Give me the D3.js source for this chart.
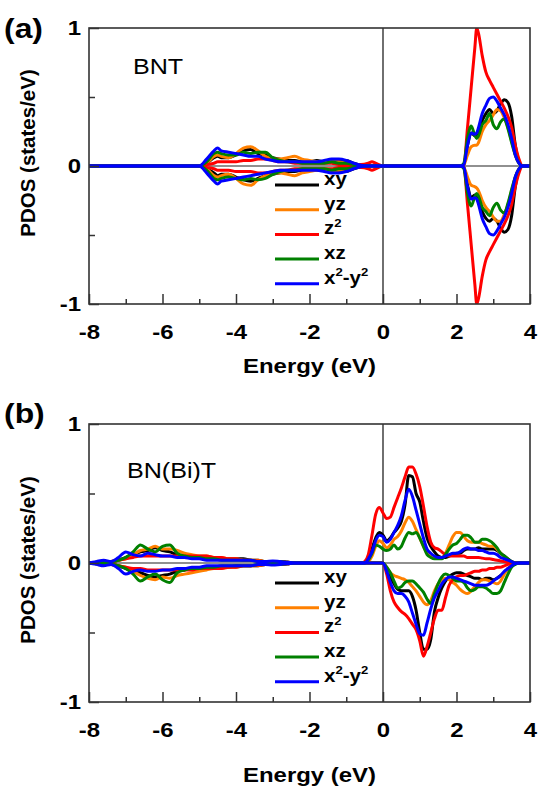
<!DOCTYPE html>
<html>
<head>
<meta charset="utf-8">
<script src="https://cdn.jsdelivr.net/npm/d3@7/dist/d3.min.js"></script>
<style>
  html, body { margin: 0; padding: 0; background: #fff; }
  svg { display: block; font-family: "Liberation Sans", Arial, Helvetica, sans-serif; }
</style>
</head>
<body>
<svg id="chart" width="538" height="788"></svg>
<script>
// ---- Energy grids (eV) ----
const energyA = [-8,
  -5.0, -4.8, -4.6, -4.5, -4.4, -4.2, -4.0, -3.8, -3.6, -3.4, -3.2, -3.0, -2.8, -2.6,
  -2.4, -2.2, -2.0, -1.8, -1.6, -1.4, -1.2, -1.0, -0.8, -0.6, -0.4, -0.3, -0.2, 0,
  2.1, 2.2, 2.3, 2.4, 2.5, 2.55, 2.6, 2.7, 2.8, 2.9, 3.0, 3.1, 3.2, 3.3, 3.4, 3.5, 3.6, 3.7, 3.8, 4];

const energyB = [
  -8, -7.8, -7.6, -7.4, -7.2, -7.0, -6.8, -6.6, -6.4, -6.2, -6.0, -5.8, -5.6, -5.4, -5.2,
  -5.0, -4.8, -4.6, -4.4, -4.2, -4.0, -3.8, -3.6, -3.4, -3.2, -3.0, -2.8, -2.6, -2.4,
  -0.6, -0.5, -0.4, -0.3, -0.2, -0.1, 0,
  0.1, 0.2, 0.3, 0.4, 0.5, 0.6, 0.7, 0.8, 0.9, 1.0,
  1.1, 1.2, 1.3, 1.4, 1.5, 1.6, 1.7, 1.8, 1.9, 2.0,
  2.1, 2.2, 2.3, 2.4, 2.5, 2.6, 2.7, 2.8, 2.9, 3.0,
  3.1, 3.2, 3.3, 3.4, 3.5, 3.6, 3.7, 3.8,
  4];

// ---- BNT: spin-up (positive) and spin-down (negative) PDOS ----
const bntXyUp = [0,
  0, 0.02, 0.06, 0.07, 0.06, 0.06, 0.08, 0.11, 0.12, 0.09, 0.08, 0.06, 0.05, 0.04,
  0.04, 0.03, 0.03, 0.04, 0.03, 0.03, 0.04, 0.04, 0.02, 0.005, 0, 0, 0, 0,
  0, 0.01, 0.15, 0.24, 0.22, 0.23, 0.26, 0.33, 0.38, 0.41, 0.38, 0.4, 0.45, 0.48, 0.46, 0.36, 0.15, 0.03, 0, 0];
const bntYzUp = [0,
  0, 0.02, 0.07, 0.08, 0.07, 0.06, 0.09, 0.13, 0.14, 0.11, 0.07, 0.05, 0.05, 0.06,
  0.07, 0.05, 0.04, 0.03, 0.03, 0.03, 0.03, 0.02, 0.01, 0.005, 0, 0, 0, 0,
  0, 0.01, 0.08, 0.14, 0.15, 0.15, 0.17, 0.25, 0.3, 0.33, 0.37, 0.41, 0.4, 0.35, 0.28, 0.18, 0.08, 0.02, 0, 0];
const bntZ2Up = [0,
  0, 0.01, 0.02, 0.03, 0.03, 0.03, 0.03, 0.04, 0.04, 0.05, 0.05, 0.04, 0.03, 0.03,
  0.02, 0.02, 0.02, 0.02, 0.02, 0.02, 0.01, 0.01, 0.01, 0.01, 0.02, 0.03, 0.02, 0,
  0, 0.01, 0.28, 0.57, 0.86, 1.0, 0.96, 0.8, 0.68, 0.62, 0.57, 0.52, 0.47, 0.42, 0.36, 0.28, 0.15, 0.05, 0, 0];
const bntXzUp = [0,
  0, 0.03, 0.09, 0.1, 0.09, 0.08, 0.08, 0.1, 0.09, 0.1, 0.1, 0.06, 0.04, 0.03,
  0.03, 0.02, 0.02, 0.02, 0.02, 0.03, 0.02, 0.02, 0.01, 0, 0, 0, 0, 0,
  0, 0.02, 0.2, 0.29, 0.22, 0.2, 0.22, 0.3, 0.33, 0.38, 0.3, 0.27, 0.32, 0.34, 0.27, 0.17, 0.08, 0.02, 0, 0];
const bntX2y2Up = [0,
  0, 0.05, 0.11, 0.13, 0.11, 0.1, 0.09, 0.08, 0.07, 0.07, 0.05, 0.04, 0.03, 0.03,
  0.03, 0.03, 0.03, 0.03, 0.04, 0.05, 0.05, 0.04, 0.02, 0.005, 0, 0, 0, 0,
  0, 0.01, 0.15, 0.24, 0.23, 0.24, 0.28, 0.38, 0.44, 0.49, 0.5, 0.47, 0.42, 0.37, 0.3, 0.2, 0.08, 0.02, 0, 0];

const bntXyDn = [0,
  0, -0.02, -0.05, -0.07, -0.06, -0.06, -0.08, -0.1, -0.11, -0.09, -0.07, -0.06, -0.05, -0.04,
  -0.04, -0.03, -0.03, -0.03, -0.03, -0.03, -0.04, -0.04, -0.02, -0.005, 0, 0, 0, 0,
  0, -0.01, -0.14, -0.23, -0.21, -0.22, -0.26, -0.33, -0.38, -0.4, -0.38, -0.4, -0.45, -0.48, -0.46, -0.36, -0.15, -0.03, 0, 0];
const bntYzDn = [0,
  0, -0.02, -0.07, -0.08, -0.07, -0.06, -0.09, -0.13, -0.14, -0.1, -0.07, -0.05, -0.05, -0.06,
  -0.07, -0.05, -0.04, -0.03, -0.03, -0.03, -0.03, -0.02, -0.01, -0.005, 0, 0, 0, 0,
  0, -0.01, -0.08, -0.14, -0.15, -0.16, -0.18, -0.25, -0.3, -0.33, -0.37, -0.4, -0.4, -0.35, -0.28, -0.18, -0.08, -0.02, 0, 0];
const bntZ2Dn = [0,
  0, -0.01, -0.02, -0.03, -0.03, -0.03, -0.04, -0.04, -0.04, -0.05, -0.05, -0.04, -0.03, -0.03,
  -0.02, -0.02, -0.02, -0.02, -0.02, -0.02, -0.01, -0.01, -0.01, -0.01, -0.02, -0.03, -0.02, 0,
  0, -0.01, -0.28, -0.57, -0.86, -1.0, -0.96, -0.8, -0.68, -0.62, -0.57, -0.52, -0.47, -0.42, -0.36, -0.28, -0.15, -0.05, 0, 0];
const bntXzDn = [0,
  0, -0.03, -0.09, -0.1, -0.09, -0.08, -0.09, -0.1, -0.09, -0.1, -0.09, -0.06, -0.04, -0.03,
  -0.03, -0.02, -0.02, -0.02, -0.02, -0.03, -0.02, -0.02, -0.01, 0, 0, 0, 0, 0,
  0, -0.02, -0.2, -0.29, -0.22, -0.2, -0.22, -0.3, -0.33, -0.36, -0.3, -0.27, -0.32, -0.34, -0.27, -0.17, -0.08, -0.02, 0, 0];
const bntX2y2Dn = [0,
  0, -0.05, -0.11, -0.13, -0.11, -0.1, -0.09, -0.08, -0.07, -0.06, -0.05, -0.04, -0.03, -0.03,
  -0.03, -0.03, -0.03, -0.03, -0.04, -0.05, -0.05, -0.04, -0.02, -0.005, 0, 0, 0, 0,
  0, -0.01, -0.15, -0.24, -0.23, -0.24, -0.28, -0.38, -0.44, -0.49, -0.5, -0.47, -0.42, -0.37, -0.3, -0.2, -0.08, -0.02, 0, 0];

// ---- BN(Bi)T ----
const bnbtXyUp = [
  0, 0.005, 0.01, 0.01, 0.02, 0.04, 0.06, 0.08, 0.09, 0.11, 0.09, 0.08, 0.06, 0.05, 0.04,
  0.04, 0.03, 0.03, 0.03, 0.03, 0.03, 0.03, 0.02, 0.02, 0.01, 0.01, 0.01, 0.005, 0,
  0, 0, 0.03, 0.1, 0.18, 0.22, 0.2,
  0.16, 0.18, 0.22, 0.25, 0.3, 0.42, 0.63, 0.62, 0.5, 0.44,
  0.3, 0.18, 0.12, 0.08, 0.05, 0.04, 0.04, 0.05, 0.06, 0.07,
  0.07, 0.09, 0.1, 0.1, 0.1, 0.11, 0.1, 0.1, 0.1, 0.1,
  0.09, 0.07, 0.05, 0.03, 0.01, 0, 0, 0,
  0];
const bnbtYzUp = [
  0, 0.005, 0.01, 0.01, 0.02, 0.03, 0.06, 0.09, 0.1, 0.12, 0.1, 0.1, 0.09, 0.07, 0.06,
  0.05, 0.05, 0.04, 0.04, 0.03, 0.03, 0.02, 0.02, 0.02, 0.01, 0.01, 0.01, 0.005, 0,
  0, 0, 0.01, 0.05, 0.12, 0.16, 0.14,
  0.11, 0.13, 0.17, 0.19, 0.23, 0.29, 0.33, 0.3, 0.24, 0.18,
  0.12, 0.07, 0.05, 0.04, 0.04, 0.04, 0.07, 0.13, 0.19, 0.22,
  0.22, 0.19, 0.16, 0.15, 0.15, 0.15, 0.14, 0.13, 0.12, 0.12,
  0.1, 0.07, 0.04, 0.02, 0.01, 0, 0, 0,
  0];
const bnbtZ2Up = [
  0, 0, 0.005, 0.01, 0.02, 0.03, 0.04, 0.05, 0.05, 0.05, 0.05, 0.05, 0.05, 0.05, 0.05,
  0.05, 0.05, 0.04, 0.04, 0.03, 0.03, 0.02, 0.02, 0.015, 0.01, 0.01, 0.01, 0.005, 0,
  0, 0.01, 0.06, 0.2, 0.35, 0.4, 0.36,
  0.32, 0.33, 0.4, 0.47, 0.54, 0.62, 0.69, 0.69, 0.64, 0.55,
  0.41, 0.26, 0.15, 0.11, 0.1, 0.08, 0.06, 0.05, 0.05, 0.05,
  0.05, 0.05, 0.04, 0.04, 0.04, 0.04, 0.035, 0.03, 0.03, 0.025,
  0.02, 0.015, 0.01, 0.005, 0, 0, 0, 0,
  0];
const bnbtXzUp = [
  0, 0.005, 0.01, 0.01, 0.02, 0.04, 0.08, 0.13, 0.1, 0.08, 0.12, 0.13, 0.07, 0.05, 0.04,
  0.04, 0.03, 0.03, 0.02, 0.02, 0.02, 0.02, 0.02, 0.01, 0.01, 0.01, 0.01, 0.005, 0,
  0, 0, 0.02, 0.07, 0.13, 0.12, 0.1,
  0.09, 0.1, 0.13, 0.1, 0.12, 0.18, 0.22, 0.21, 0.22, 0.18,
  0.12, 0.06, 0.04, 0.03, 0.03, 0.03, 0.06, 0.1, 0.13, 0.14,
  0.17, 0.2, 0.2, 0.18, 0.15, 0.15, 0.17, 0.17, 0.16, 0.14,
  0.11, 0.07, 0.05, 0.03, 0.01, 0, 0, 0,
  0];
const bnbtX2y2Up = [
  0, 0.01, 0.02, 0.01, 0.04, 0.08, 0.06, 0.05, 0.07, 0.06, 0.05, 0.05, 0.04, 0.04, 0.03,
  0.03, 0.02, 0.02, 0.02, 0.02, 0.02, 0.02, 0.02, 0.01, 0.01, 0.015, 0.01, 0.005, 0,
  0, 0, 0.03, 0.08, 0.16, 0.2, 0.19,
  0.15, 0.17, 0.22, 0.27, 0.34, 0.45, 0.53, 0.48, 0.38, 0.28,
  0.18, 0.1, 0.07, 0.05, 0.04, 0.04, 0.05, 0.06, 0.07, 0.07,
  0.08, 0.1, 0.11, 0.1, 0.1, 0.09, 0.09, 0.08, 0.07, 0.07,
  0.06, 0.04, 0.03, 0.02, 0.01, 0, 0, 0,
  0];

const bnbtXyDn = [
  0, -0.005, -0.01, -0.01, -0.02, -0.04, -0.06, -0.07, -0.09, -0.1, -0.09, -0.08, -0.06, -0.05, -0.04,
  -0.04, -0.03, -0.03, -0.03, -0.03, -0.02, -0.02, -0.02, -0.02, -0.01, -0.01, -0.01, -0.005, 0,
  0, 0, 0, 0, 0, 0, 0,
  -0.04, -0.1, -0.15, -0.19, -0.2, -0.2, -0.2, -0.24, -0.34, -0.5,
  -0.62, -0.62, -0.55, -0.35, -0.25, -0.18, -0.13, -0.1, -0.08, -0.07,
  -0.07, -0.08, -0.09, -0.1, -0.11, -0.11, -0.12, -0.11, -0.11, -0.12,
  -0.11, -0.09, -0.07, -0.04, -0.02, 0, 0, 0,
  0];
const bnbtYzDn = [
  0, -0.005, -0.01, -0.01, -0.02, -0.03, -0.06, -0.09, -0.11, -0.12, -0.1, -0.11, -0.09, -0.08, -0.07,
  -0.06, -0.05, -0.04, -0.04, -0.03, -0.03, -0.02, -0.02, -0.02, -0.01, -0.01, -0.01, -0.005, 0,
  0, 0, 0, 0, 0, 0, 0,
  -0.03, -0.07, -0.09, -0.1, -0.11, -0.12, -0.14, -0.17, -0.2, -0.24,
  -0.28, -0.3, -0.27, -0.2, -0.15, -0.12, -0.11, -0.12, -0.14, -0.16,
  -0.19, -0.21, -0.22, -0.2, -0.17, -0.14, -0.12, -0.12, -0.13, -0.14,
  -0.15, -0.13, -0.08, -0.04, -0.02, 0, 0, 0,
  0];
const bnbtZ2Dn = [
  0, 0, -0.005, -0.01, -0.02, -0.03, -0.04, -0.04, -0.05, -0.05, -0.05, -0.05, -0.05, -0.05, -0.05,
  -0.04, -0.04, -0.04, -0.04, -0.03, -0.03, -0.02, -0.02, -0.015, -0.01, -0.01, -0.01, -0.005, 0,
  0, 0, 0, 0, 0, 0, 0,
  -0.08, -0.2, -0.28, -0.32, -0.35, -0.37, -0.4, -0.44, -0.48, -0.56,
  -0.67, -0.6, -0.5, -0.4, -0.34, -0.34, -0.25, -0.16, -0.12, -0.1,
  -0.09, -0.09, -0.08, -0.07, -0.06, -0.06, -0.05, -0.05, -0.04, -0.04,
  -0.03, -0.03, -0.02, -0.01, 0, 0, 0, 0,
  0];
const bnbtXzDn = [
  0, -0.005, -0.01, -0.01, -0.02, -0.04, -0.08, -0.13, -0.1, -0.08, -0.12, -0.14, -0.07, -0.05, -0.04,
  -0.04, -0.03, -0.03, -0.02, -0.02, -0.02, -0.02, -0.02, -0.01, -0.01, -0.01, -0.01, -0.005, 0,
  0, 0, 0, 0, 0, 0, 0,
  -0.03, -0.07, -0.13, -0.18, -0.17, -0.14, -0.13, -0.13, -0.15, -0.18,
  -0.21, -0.26, -0.29, -0.22, -0.15, -0.1, -0.08, -0.09, -0.11, -0.13,
  -0.13, -0.14, -0.18, -0.2, -0.19, -0.17, -0.17, -0.18, -0.2, -0.22,
  -0.22, -0.2, -0.14, -0.08, -0.03, -0.01, 0, 0,
  0];
const bnbtX2y2Dn = [
  0, -0.01, -0.02, -0.01, -0.04, -0.08, -0.06, -0.05, -0.06, -0.06, -0.05, -0.05, -0.04, -0.04, -0.03,
  -0.03, -0.02, -0.02, -0.02, -0.02, -0.02, -0.02, -0.02, -0.01, -0.01, -0.015, -0.01, -0.005, 0,
  0, 0, 0, 0, 0, 0, 0,
  -0.06, -0.14, -0.2, -0.22, -0.22, -0.24, -0.28, -0.36, -0.44, -0.51,
  -0.52, -0.43, -0.33, -0.25, -0.2, -0.15, -0.12, -0.1, -0.1, -0.11,
  -0.12, -0.13, -0.14, -0.15, -0.16, -0.16, -0.16, -0.16, -0.15, -0.13,
  -0.11, -0.09, -0.06, -0.04, -0.02, -0.005, 0, 0,
  0];

// ---- Axis ticks and legend ----
const xMajorTicks = [-8, -6, -4, -2, 0, 2, 4];
const xMinorTicks = [-7, -5, -3, -1, 1, 3];
const yMajorTicks = [-1, 0, 1];
const yMinorTicks = [-0.5, 0.5];
const orbitalLabels = [["xy"], ["yz"], ["z", "2"], ["xz"], ["x", "2", "-y", "2"]];
const orbitalColors = ["#000000", "#ff8000", "#ff0000", "#008000", "#0000ff"];

// ---- Layout ----
const svg = d3.select("#chart");
const X0 = 89, X1 = 530;
const STRETCH = 1.14;   // horizontal widening of the type
const FONT = '"Liberation Sans", Arial, Helvetica, sans-serif';
const plainNumber = d => String(d);   // hyphen-minus for negative labels

const x = d3.scaleLinear().domain([-8, 4]).range([X0, X1]);

const panels = [
  { tag: "(a)", name: "BNT", top: 28, bottom: 304, energy: energyA,
    up: [bntXyUp, bntYzUp, bntZ2Up, bntXzUp, bntX2y2Up],
    dn: [bntXyDn, bntYzDn, bntZ2Dn, bntXzDn, bntX2y2Dn],
    tagY: 28, nameX: 133, nameY: 66, legendY: 185, titleY: 366, yTitleY: 153 },
  { tag: "(b)", name: "BN(Bi)T", top: 424, bottom: 702, energy: energyB,
    up: [bnbtXyUp, bnbtYzUp, bnbtZ2Up, bnbtXzUp, bnbtX2y2Up],
    dn: [bnbtXyDn, bnbtYzDn, bnbtZ2Dn, bnbtXzDn, bnbtX2y2Dn],
    tagY: 413, nameX: 127, nameY: 470, legendY: 583, titleY: 775, yTitleY: 560 }
];

function stretchedText(g, px, py, str, opts) {
  const t = g.append("text")
    .attr("transform", `translate(${px},${py}) scale(${STRETCH},1)`)
    .attr("font-family", FONT)
    .attr("font-size", opts.size)
    .attr("font-weight", opts.weight || "bold")
    .attr("text-anchor", opts.anchor || "start")
    .attr("dy", opts.dy || "0.35em")
    .attr("fill", "#000");
  if (str !== null) t.text(str);
  return t;
}

panels.forEach((p, pi) => {
  const y = d3.scaleLinear().domain([-1, 1]).range([p.bottom, p.top]);
  const g = svg.append("g");

  const clipId = "clip" + pi;
  svg.append("clipPath").attr("id", clipId)
    .append("rect").attr("x", X0).attr("y", p.top)
    .attr("width", X1 - X0).attr("height", p.bottom - p.top);

  // reference lines at E = 0 and PDOS = 0
  g.append("line").attr("x1", X0).attr("x2", X1).attr("y1", y(0)).attr("y2", y(0))
    .attr("stroke", "#222").attr("stroke-width", 1.2);
  g.append("line").attr("x1", x(0)).attr("x2", x(0)).attr("y1", p.top).attr("y2", p.bottom)
    .attr("stroke", "#222").attr("stroke-width", 1.3);

  // orbital curves, spin up then spin down
  const line = d3.line()
    .x((d, i) => x(p.energy[i]))
    .y(d => y(d))
    .curve(d3.curveMonotoneX);
  const curves = g.append("g").attr("clip-path", `url(#${clipId})`)
    .attr("fill", "none").attr("stroke-width", 3)
    .attr("stroke-linejoin", "round").attr("stroke-linecap", "round");
  orbitalColors.forEach((c, k) => {
    curves.append("path").attr("d", line(p.up[k])).attr("stroke", c);
    curves.append("path").attr("d", line(p.dn[k])).attr("stroke", c);
  });

  // frame
  g.append("rect").attr("x", X0).attr("y", p.top)
    .attr("width", X1 - X0).attr("height", p.bottom - p.top)
    .attr("fill", "none").attr("stroke", "#333").attr("stroke-width", 1.6);

  // ticks (inward); only the major ticks carry labels
  const axX = g.append("g").attr("transform", `translate(0,${p.bottom})`);
  axX.append("g").call(d3.axisBottom(x).tickValues(xMinorTicks).tickSizeInner(-5).tickSizeOuter(0).tickFormat(() => ""));
  const xMaj = axX.append("g").call(d3.axisBottom(x).tickValues(xMajorTicks).tickSizeInner(-10).tickSizeOuter(0).tickPadding(20.5).tickFormat(plainNumber));
  const axY = g.append("g").attr("transform", `translate(${X0},0)`);
  axY.append("g").call(d3.axisLeft(y).tickValues(yMinorTicks).tickSizeInner(-6).tickSizeOuter(0).tickFormat(() => ""));
  const yMaj = axY.append("g").call(d3.axisLeft(y).tickValues(yMajorTicks).tickSizeInner(-10).tickSizeOuter(0).tickPadding(7).tickFormat(plainNumber));
  g.selectAll(".domain").remove();
  g.selectAll(".tick line").attr("stroke", "#333").attr("stroke-width", 1.5);
  [xMaj, yMaj].forEach(a => a.selectAll(".tick text")
    .attr("font-family", FONT).attr("font-size", 21).attr("font-weight", "bold")
    .attr("fill", "#000")
    .attr("transform", `scale(${STRETCH},1)`));

  // axis titles
  stretchedText(g, (X0 + X1) / 2, p.titleY, "Energy (eV)", { size: 21, anchor: "middle" });
  g.append("text")
    .attr("transform", `translate(28,${p.yTitleY}) rotate(-90)`)
    .attr("font-family", FONT).attr("font-size", 20.5).attr("font-weight", "bold")
    .attr("text-anchor", "middle").attr("dy", "0.35em")
    .text("PDOS (states/eV)");

  // panel tag and compound name
  stretchedText(g, 4, p.tagY, p.tag, { size: 28 });
  stretchedText(g, p.nameX, p.nameY, p.name, { size: 22, weight: "normal" });

  // legend
  const lg = g.append("g");
  orbitalLabels.forEach((parts, k) => {
    const ly = p.legendY + k * 24.7;
    lg.append("line").attr("x1", 275).attr("x2", 319).attr("y1", ly).attr("y2", ly)
      .attr("stroke", orbitalColors[k]).attr("stroke-width", 3);
    const t = stretchedText(lg, 324, ly, null, { size: 18 });
    parts.forEach((s, j) => {
      const sup = (s === "2");
      t.append("tspan")
        .attr("font-size", sup ? 11.5 : 18)
        .attr("dy", sup ? -7.5 : (j > 0 ? 7.5 : 0))
        .text(s);
    });
  });
});
</script>
</body>
</html>
